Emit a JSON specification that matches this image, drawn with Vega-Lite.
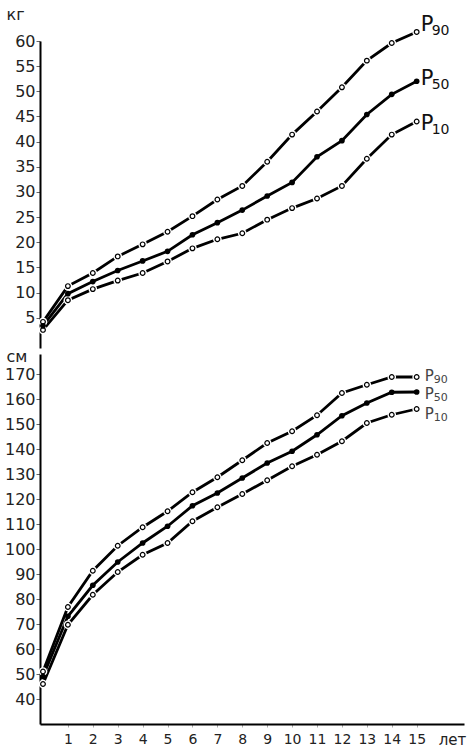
{
  "$schema": "https://vega.github.io/schema/vega-lite/v6.json",
  "background": "white",
  "padding": {"left": 4, "top": 6, "right": 2, "bottom": 0},
  "spacing": 0,
  "config": {
    "view": {"stroke": null},
    "font": "DejaVu Sans",
    "axis": {
      "grid": false,
      "domainColor": "black",
      "domainWidth": 2,
      "tickColor": "#666",
      "tickSize": 4,
      "labelFontSize": 16,
      "labelColor": "#222",
      "titleFontSize": 16,
      "titleFontWeight": "normal",
      "titleColor": "#222"
    }
  },
  "datasets": {
    "weight": [
      {"age": 0, "p": "P90", "v": 4.2}, {"age": 0, "p": "P50", "v": 3.4}, {"age": 0, "p": "P10", "v": 2.6},
      {"age": 1, "p": "P90", "v": 11.3}, {"age": 1, "p": "P50", "v": 9.8}, {"age": 1, "p": "P10", "v": 8.5},
      {"age": 2, "p": "P90", "v": 13.9}, {"age": 2, "p": "P50", "v": 12.2}, {"age": 2, "p": "P10", "v": 10.7},
      {"age": 3, "p": "P90", "v": 17.2}, {"age": 3, "p": "P50", "v": 14.4}, {"age": 3, "p": "P10", "v": 12.4},
      {"age": 4, "p": "P90", "v": 19.6}, {"age": 4, "p": "P50", "v": 16.3}, {"age": 4, "p": "P10", "v": 13.9},
      {"age": 5, "p": "P90", "v": 22.1}, {"age": 5, "p": "P50", "v": 18.2}, {"age": 5, "p": "P10", "v": 16.2},
      {"age": 6, "p": "P90", "v": 25.2}, {"age": 6, "p": "P50", "v": 21.5}, {"age": 6, "p": "P10", "v": 18.8},
      {"age": 7, "p": "P90", "v": 28.5}, {"age": 7, "p": "P50", "v": 23.9}, {"age": 7, "p": "P10", "v": 20.6},
      {"age": 8, "p": "P90", "v": 31.2}, {"age": 8, "p": "P50", "v": 26.4}, {"age": 8, "p": "P10", "v": 21.8},
      {"age": 9, "p": "P90", "v": 36.0}, {"age": 9, "p": "P50", "v": 29.2}, {"age": 9, "p": "P10", "v": 24.5},
      {"age": 10, "p": "P90", "v": 41.4}, {"age": 10, "p": "P50", "v": 31.9}, {"age": 10, "p": "P10", "v": 26.8},
      {"age": 11, "p": "P90", "v": 46.0}, {"age": 11, "p": "P50", "v": 37.0}, {"age": 11, "p": "P10", "v": 28.7},
      {"age": 12, "p": "P90", "v": 50.8}, {"age": 12, "p": "P50", "v": 40.2}, {"age": 12, "p": "P10", "v": 31.2},
      {"age": 13, "p": "P90", "v": 56.1}, {"age": 13, "p": "P50", "v": 45.4}, {"age": 13, "p": "P10", "v": 36.6},
      {"age": 14, "p": "P90", "v": 59.6}, {"age": 14, "p": "P50", "v": 49.4}, {"age": 14, "p": "P10", "v": 41.4},
      {"age": 15, "p": "P90", "v": 61.8}, {"age": 15, "p": "P50", "v": 52.0}, {"age": 15, "p": "P10", "v": 44.0}
    ],
    "height": [
      {"age": 0, "p": "P90", "v": 51.0}, {"age": 0, "p": "P50", "v": 49.0}, {"age": 0, "p": "P10", "v": 46.0},
      {"age": 1, "p": "P90", "v": 76.8}, {"age": 1, "p": "P50", "v": 73.1}, {"age": 1, "p": "P10", "v": 69.7},
      {"age": 2, "p": "P90", "v": 91.3}, {"age": 2, "p": "P50", "v": 85.5}, {"age": 2, "p": "P10", "v": 81.7},
      {"age": 3, "p": "P90", "v": 101.3}, {"age": 3, "p": "P50", "v": 94.8}, {"age": 3, "p": "P10", "v": 90.8},
      {"age": 4, "p": "P90", "v": 108.7}, {"age": 4, "p": "P50", "v": 102.4}, {"age": 4, "p": "P10", "v": 97.7},
      {"age": 5, "p": "P90", "v": 115.1}, {"age": 5, "p": "P50", "v": 109.1}, {"age": 5, "p": "P10", "v": 102.4},
      {"age": 6, "p": "P90", "v": 122.7}, {"age": 6, "p": "P50", "v": 117.3}, {"age": 6, "p": "P10", "v": 111.1},
      {"age": 7, "p": "P90", "v": 128.7}, {"age": 7, "p": "P50", "v": 122.4}, {"age": 7, "p": "P10", "v": 116.7},
      {"age": 8, "p": "P90", "v": 135.5}, {"age": 8, "p": "P50", "v": 128.4}, {"age": 8, "p": "P10", "v": 122.0},
      {"age": 9, "p": "P90", "v": 142.4}, {"age": 9, "p": "P50", "v": 134.4}, {"age": 9, "p": "P10", "v": 127.5},
      {"age": 10, "p": "P90", "v": 147.1}, {"age": 10, "p": "P50", "v": 139.1}, {"age": 10, "p": "P10", "v": 133.1},
      {"age": 11, "p": "P90", "v": 153.5}, {"age": 11, "p": "P50", "v": 145.7}, {"age": 11, "p": "P10", "v": 137.7},
      {"age": 12, "p": "P90", "v": 162.4}, {"age": 12, "p": "P50", "v": 153.3}, {"age": 12, "p": "P10", "v": 143.1},
      {"age": 13, "p": "P90", "v": 165.7}, {"age": 13, "p": "P50", "v": 158.4}, {"age": 13, "p": "P10", "v": 150.4},
      {"age": 14, "p": "P90", "v": 168.8}, {"age": 14, "p": "P50", "v": 162.7}, {"age": 14, "p": "P10", "v": 153.7},
      {"age": 15, "p": "P90", "v": 168.8}, {"age": 15, "p": "P50", "v": 162.8}, {"age": 15, "p": "P10", "v": 156.0}
    ],
    "labW": [
      {"age": 15, "p": "P90", "v": 62.0, "sub": "90"},
      {"age": 15, "p": "P50", "v": 51.3, "sub": "50"},
      {"age": 15, "p": "P10", "v": 42.3, "sub": "10"}
    ],
    "labH": [
      {"age": 15, "p": "P90", "v": 167.2, "sub": "90"},
      {"age": 15, "p": "P50", "v": 160.0, "sub": "50"},
      {"age": 15, "p": "P10", "v": 152.0, "sub": "10"}
    ]
  },
  "vconcat": [
    {
      "width": 424,
      "height": 307,
      "data": {"name": "weight"},
      "encoding": {
        "x": {"field": "age", "type": "quantitative", "scale": {"domain": [-0.12, 16.9], "nice": false}, "axis": null},
        "y": {
          "field": "v", "type": "quantitative",
          "scale": {"domain": [-1, 60], "nice": false, "zero": false},
          "axis": {
            "values": [5, 10, 15, 20, 25, 30, 35, 40, 45, 50, 55, 60],
            "title": "кг", "titleAngle": 0, "titleAlign": "left", "titleBaseline": "middle",
            "titleX": -34, "titleY": -27, "labelPadding": 1,
            "minExtent": 36, "maxExtent": 36
          }
        }
      },
      "layer": [
        {"mark": {"type": "line", "color": "black", "strokeWidth": 2.8}, "encoding": {"detail": {"field": "p"}}},
        {"transform": [{"filter": "datum.p != 'P50'"}], "mark": {"type": "point", "filled": true, "color": "white", "size": 75, "opacity": 1}},
        {"transform": [{"filter": "datum.p != 'P50'"}], "mark": {"type": "point", "filled": true, "fill": "white", "stroke": "black", "strokeWidth": 1.2, "size": 22, "opacity": 1}},
        {"transform": [{"filter": "datum.p == 'P50'"}], "mark": {"type": "point", "filled": true, "color": "black", "size": 32, "opacity": 1}},
        {"data": {"name": "labW"}, "mark": {"type": "text", "text": "P", "align": "left", "baseline": "alphabetic", "dx": 4, "fontSize": 21, "color": "#111"}},
        {"data": {"name": "labW"}, "mark": {"type": "text", "align": "left", "baseline": "alphabetic", "dx": 15, "dy": 4, "fontSize": 14, "color": "#111"}, "encoding": {"text": {"field": "sub"}}}
      ]
    },
    {
      "width": 424,
      "height": 370,
      "data": {"name": "height"},
      "encoding": {
        "x": {
          "field": "age", "type": "quantitative", "scale": {"domain": [-0.12, 16.9], "nice": false},
          "axis": {
            "values": [1, 2, 3, 4, 5, 6, 7, 8, 9, 10, 11, 12, 13, 14, 15], "format": "d",
            "title": "лет", "titleAlign": "center", "titleBaseline": "middle", "titleX": 412, "titleY": 15,
            "titleFontSize": 15, "labelFontSize": 14, "labelPadding": 5, "tickSize": 3, "tickColor": "#aaa"
          }
        },
        "y": {
          "field": "v", "type": "quantitative",
          "scale": {"domain": [30, 178], "nice": false, "zero": false},
          "axis": {
            "values": [40, 50, 60, 70, 80, 90, 100, 110, 120, 130, 140, 150, 160, 170],
            "title": "см", "titleAngle": 0, "titleAlign": "left", "titleBaseline": "middle",
            "titleX": -34, "titleY": 2, "labelPadding": 1,
            "minExtent": 36, "maxExtent": 36
          }
        }
      },
      "layer": [
        {"mark": {"type": "line", "color": "black", "strokeWidth": 2.8}, "encoding": {"detail": {"field": "p"}}},
        {"transform": [{"filter": "datum.p != 'P50'"}], "mark": {"type": "point", "filled": true, "color": "white", "size": 75, "opacity": 1}},
        {"transform": [{"filter": "datum.p != 'P50'"}], "mark": {"type": "point", "filled": true, "fill": "white", "stroke": "black", "strokeWidth": 1.2, "size": 22, "opacity": 1}},
        {"transform": [{"filter": "datum.p == 'P50'"}], "mark": {"type": "point", "filled": true, "color": "black", "size": 32, "opacity": 1}},
        {"data": {"name": "labH"}, "mark": {"type": "text", "text": "P", "align": "left", "baseline": "alphabetic", "dx": 8, "fontSize": 15, "color": "#444"}},
        {"data": {"name": "labH"}, "mark": {"type": "text", "align": "left", "baseline": "alphabetic", "dx": 17, "dy": 2, "fontSize": 11, "color": "#444"}, "encoding": {"text": {"field": "sub"}}}
      ]
    }
  ]
}
